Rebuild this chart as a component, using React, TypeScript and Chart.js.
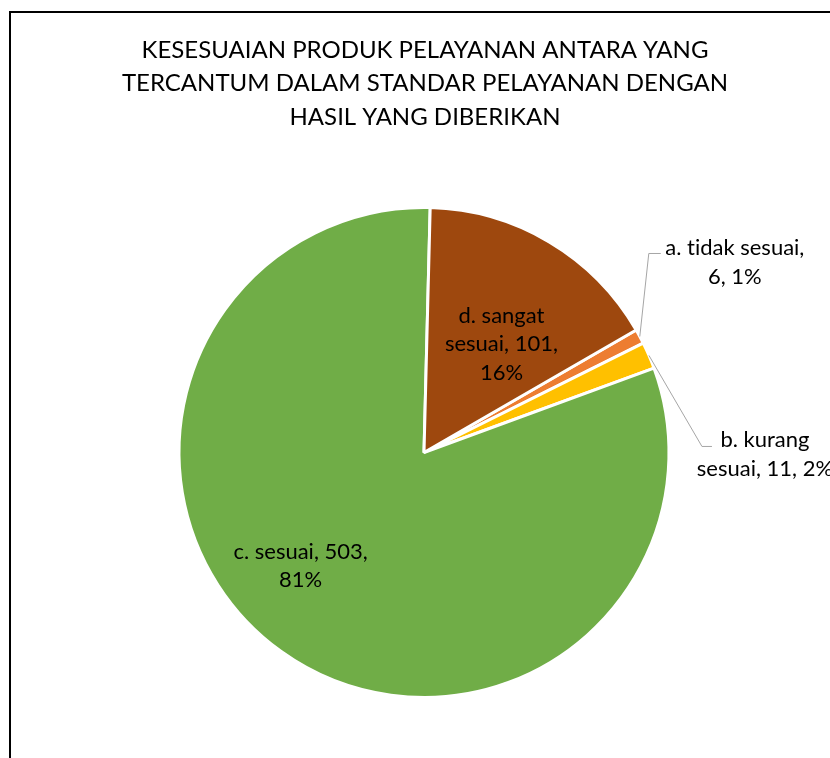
import { useEffect, useRef } from "react";
import { Chart, registerables } from "chart.js";

Chart.register(...registerables);

const titleLines = [
  "KESESUAIAN PRODUK PELAYANAN ANTARA YANG",
  "TERCANTUM DALAM STANDAR PELAYANAN DENGAN",
  "HASIL YANG DIBERIKAN",
];
const categories = ["a. tidak sesuai", "b. kurang sesuai", "c. sesuai", "d. sangat sesuai"];
const values = [6, 11, 503, 101];
const percents = ["1%", "2%", "81%", "16%"];
const sliceColors = ["#ED7D31", "#FFC000", "#70AD47", "#9E480E"];
// word counts after which a label line is broken
const labelBreaks = [[3], [2], [3], [2, 4]];

const FONT = "Lato, 'Noto Sans', sans-serif";
const TITLE_SIZE = 24;
const LABEL_SIZE = 22;

type Place =
  | { kind: "inside"; rf: number; dx: number; dy: number }
  | { kind: "outside"; elbow: [number, number]; end: [number, number]; text: [number, number] };

const placements: Place[] = [
  { kind: "outside", elbow: [9, -83], end: [21, -83], text: [95, -74] },
  { kind: "outside", elbow: [53, 91], end: [63, 91], text: [116, 99] },
  { kind: "inside", rf: 0.57, dx: -42, dy: 0 },
  { kind: "inside", rf: 0.515, dx: 13, dy: 0 },
];

function labelLinesFor(i: number): string[] {
  const words = `${categories[i]}, ${values[i]}, ${percents[i]}`.split(" ");
  const lines: string[] = [];
  let start = 0;
  for (const b of [...labelBreaks[i], words.length]) {
    lines.push(words.slice(start, b).join(" "));
    start = b;
  }
  return lines;
}

const pieDecor = {
  id: "pieDecor",
  beforeDraw(chart: any) {
    const ctx = chart.ctx;
    ctx.save();
    ctx.fillStyle = "#ffffff";
    ctx.fillRect(0, 0, chart.width, chart.height);
    ctx.strokeStyle = "#000000";
    ctx.lineWidth = 2;
    ctx.beginPath();
    ctx.moveTo(10, chart.height + 2);
    ctx.lineTo(10, 12);
    ctx.lineTo(chart.width + 2, 12);
    ctx.stroke();
    ctx.restore();
  },
  afterDraw(chart: any) {
    const ctx = chart.ctx;
    ctx.save();
    try {
      (ctx as any).textRendering = "optimizeSpeed";
    } catch (e) {}
    // title
    ctx.fillStyle = "#000000";
    ctx.textAlign = "center";
    ctx.textBaseline = "middle";
    ctx.font = `${TITLE_SIZE}px ${FONT}`;
    titleLines.forEach((t, i) => ctx.fillText(t, 425, 50 + i * 33.5));

    const meta = chart.getDatasetMeta(0);
    ctx.font = `${LABEL_SIZE}px ${FONT}`;
    const lh = 28.5;
    meta.data.forEach((arc: any, i: number) => {
      const p = placements[i];
      const mid = (arc.startAngle + arc.endAngle) / 2;
      const lines = labelLinesFor(i);
      let cx: number, cy: number;
      if (p.kind === "inside") {
        const r = arc.outerRadius * p.rf;
        cx = arc.x + r * Math.cos(mid) + p.dx;
        cy = arc.y + r * Math.sin(mid) + p.dy;
      } else {
        const ex = arc.x + arc.outerRadius * Math.cos(mid);
        const ey = arc.y + arc.outerRadius * Math.sin(mid);
        ctx.strokeStyle = "#A6A6A6";
        ctx.lineWidth = 1;
        ctx.beginPath();
        ctx.moveTo(ex, ey);
        ctx.lineTo(ex + p.elbow[0], ey + p.elbow[1]);
        ctx.lineTo(ex + p.end[0], ey + p.end[1]);
        ctx.stroke();
        cx = ex + p.text[0];
        cy = ey + p.text[1];
      }
      ctx.fillStyle = "#000000";
      const top = cy - ((lines.length - 1) * lh) / 2;
      lines.forEach((l, k) => ctx.fillText(l, cx, top + k * lh));
    });
    ctx.restore();
  },
};

export default function App() {
  const ref = useRef<HTMLCanvasElement | null>(null);
  useEffect(() => {
    if (!ref.current) return;
    const chart = new Chart(ref.current, {
      type: "pie",
      data: {
        labels: categories,
        datasets: [
          {
            data: values,
            backgroundColor: sliceColors,
            borderColor: "#ffffff",
            borderWidth: 3,
          },
        ],
      },
      options: {
        responsive: false,
        animation: false,
        devicePixelRatio: 1,
        rotation: 60,
        radius: 245,
        layout: { padding: { left: 18, right: 0, top: 147, bottom: 0 } },
        plugins: {
          legend: { display: false },
          tooltip: { enabled: false },
          title: { display: false },
        },
      },
      plugins: [pieDecor],
    });
    return () => chart.destroy();
  }, []);
  return (
    <div style={{ position: "fixed", left: 0, top: 0, width: 830, height: 758, overflow: "hidden" }}>
      <canvas ref={ref} width={830} height={758} style={{ display: "block" }} />
    </div>
  );
}
